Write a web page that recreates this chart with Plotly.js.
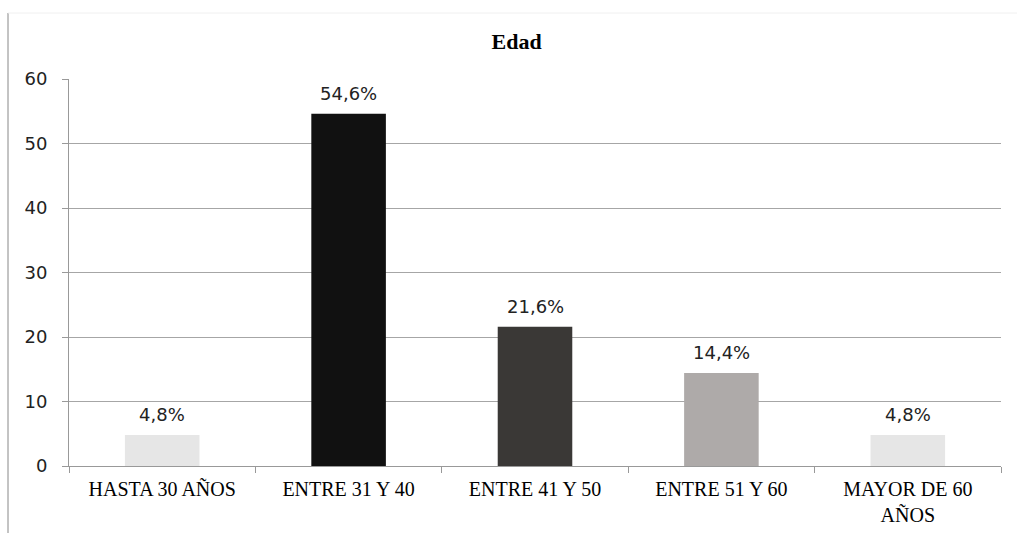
<!DOCTYPE html>
<html>
<head>
<meta charset="utf-8">
<script src="https://cdn.plot.ly/plotly-3.0.1.min.js"></script>
<style>html,body{margin:0;padding:0;background:#fff;}</style>
</head>
<body>
<div id="chart" style="width:1017px;height:533px;"></div>
<script>
const categories = ["HASTA 30 AÑOS", "ENTRE 31 Y 40", "ENTRE 41 Y 50", "ENTRE 51 Y 60", "MAYOR DE 60<br>AÑOS"];
const values = [4.8, 54.6, 21.6, 14.4, 4.8];
const valueLabels = ["4,8%", "54,6%", "21,6%", "14,4%", "4,8%"];
const barColors = ["#e6e6e6", "#111111", "#3a3836", "#aeaaa9", "#e6e6e6"];
const yTicks = [0, 10, 20, 30, 40, 50, 60];

const trace = {
  type: "bar",
  x: categories,
  y: values,
  marker: {color: barColors, line: {width: 0}},
  width: 0.4,
  hoverinfo: "none"
};

const labelAnnotations = categories.map((c, i) => ({
  x: c, y: values[i], xref: "x", yref: "y",
  text: valueLabels[i], showarrow: false,
  yanchor: "bottom", xanchor: "center", yshift: 8,
  font: {family: "DejaVu Sans", size: 18, color: "#222"}
}));

const layout = {
  width: 1017, height: 533,
  margin: {l: 69, r: 16, t: 79, b: 67},
  paper_bgcolor: "#fff", plot_bgcolor: "#fff",
  showlegend: false,
  title: {text: "<b>Edad</b>", font: {family: "Liberation Serif", size: 22, color: "#000"}, x: 0.508, xanchor: "center", y: 0.923, yanchor: "middle"},
  xaxis: {
    type: "category",
    tickson: "boundaries",
    ticks: "outside", ticklen: 6, tickcolor: "#999",
    showline: true, linecolor: "#999", linewidth: 1,
    showgrid: false,
    ticklabelstandoff: 5,
    tickfont: {family: "Liberation Serif", size: 20, color: "#000"},
    fixedrange: true
  },
  yaxis: {
    range: [0, 60],
    tickvals: yTicks,
    ticks: "outside", ticklen: 6, tickcolor: "#999",
    showline: true, linecolor: "#999", linewidth: 1,
    showgrid: true, gridcolor: "#a6a6a6", gridwidth: 1,
    zeroline: false,
    ticklabelstandoff: 11,
    tickfont: {family: "DejaVu Sans", size: 18, color: "#222"},
    fixedrange: true
  },
  annotations: labelAnnotations,
  shapes: [
    {type: "line", xref: "paper", yref: "paper", x0: (8-69)/932, x1: (8-69)/932, y0: (466-13)/387, y1: (466-533)/387, line: {color: "#888", width: 1}},
    {type: "line", xref: "paper", yref: "paper", x0: (8-69)/932, x1: (1017-69)/932, y0: (466-13)/387, y1: (466-13)/387, line: {color: "#f0f0f0", width: 1}}
  ]
};

Plotly.newPlot("chart", [trace], layout, {displayModeBar: false, staticPlot: true});
</script>
</body>
</html>
